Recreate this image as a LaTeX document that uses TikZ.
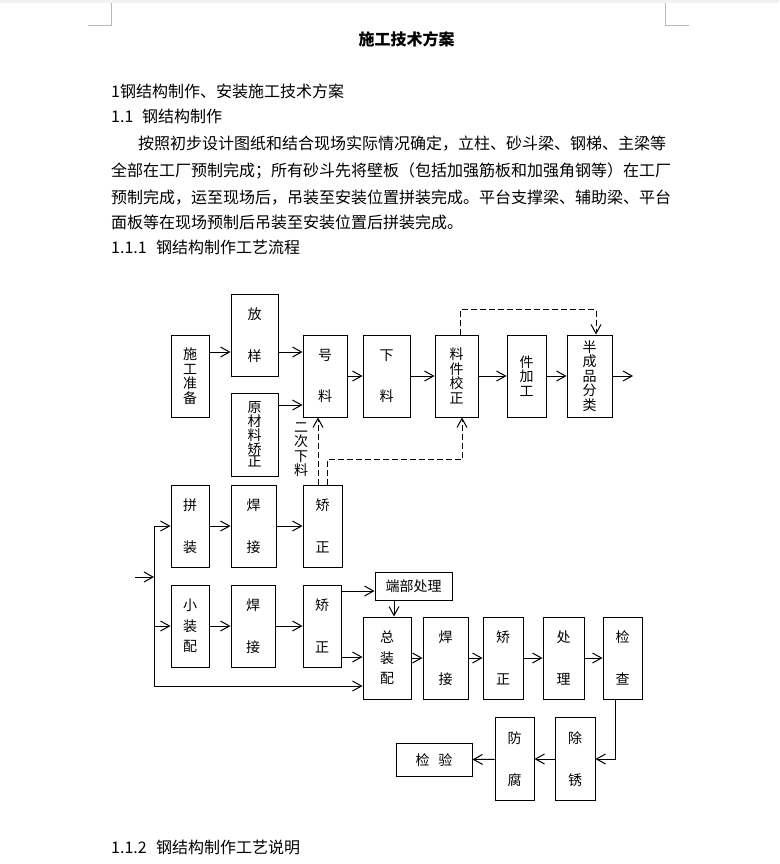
\documentclass[tikz,border=0pt]{standalone}
\usepackage{fontspec}
\setmainfont{Noto Sans CJK SC}
\usetikzlibrary{arrows.meta}
\XeTeXlinebreaklocale "zh"
\XeTeXlinebreakskip=0pt plus 1pt

\begin{document}
\begin{tikzpicture}[
  x=1pt, y=-1pt,
  box/.style={rectangle, draw=black, line width=1pt, fill=white,
              inner sep=0pt, align=center,
              minimum width=44pt, minimum height=82pt,
              font=\fontsize{14}{14.5}\selectfont},
  hbox/.style={box, minimum height=29pt},
  txt/.style={anchor=base west, inner sep=0pt, font=\fontsize{16}{16}\selectfont},
  arr/.style={-{Straight Barb[length=9pt,width=10pt]}, line width=1pt},
  darr/.style={arr, dash pattern=on 6pt off 3pt},
  cropline/.style={black!28, line width=1pt},
]
\useasboundingbox (0,0) rectangle (779,864);
\fill[white] (0,0) rectangle (779,864);
\fill[black!5] (0,0) rectangle (779,3);

%% ---- page corners ----
\draw[cropline] (88,26) -- (111.5,26) -- (111.5,3);
\draw[cropline] (665,3) -- (665,26) -- (689,26);

%% ---- text ----
\node[txt, anchor=base, font=\fontsize{16}{16}\selectfont\bfseries] (title) at (406.5,45.5)
  {施工技术方案};
\node[txt] (sec1)  at (111,98) {1钢结构制作、安装施工技术方案};
\node[txt] (sec11) at (111,123) {\makebox[31pt][l]{1.1}钢结构制作};
\node[txt] (par1)  at (138,149)
  {\makebox[527pt][s]{按照初步设计图纸和结合现场实际情况确定，立柱、砂斗梁、钢梯、主梁等}};
\node[txt] (par2)  at (111,176)
  {\makebox[554pt][s]{全部在工厂预制完成；所有砂斗先将壁板（包括加强筋板和加强角钢等）在工厂}};
\node[txt] (par3)  at (111,203)
  {\makebox[554pt][s]{预制完成，运至现场后，吊装至安装位置拼装完成。平台支撑梁、辅助梁、平台}};
\node[txt] (par4)  at (111,228) {面板等在现场预制后吊装至安装位置后拼装完成。};
\node[txt] (sec111) at (111,253) {\makebox[45pt][l]{1.1.1}钢结构制作工艺流程};
\node[txt] (sec112) at (111,853) {\makebox[45pt][l]{1.1.2}钢结构制作工艺说明};

%% ---- row 1 ----
\node[box, minimum width=38pt] (prep)     at (190,376)   {施\\工\\准\\备};
\node[box, minimum width=47pt] (fangyang) at (254.5,335) {放\\[27pt]样};
\node[box, minimum width=47pt, minimum height=83pt,
      font=\fontsize{14}{12.8}\selectfont] (yuancai) at (254.5,434.5)
  {原\\材\\料\\矫\\正};
\node[box]                     (haoliao)  at (325,376)   {号\\[27pt]料};
\node[box, minimum width=47pt] (xialiao)  at (386.5,376) {下\\[27pt]料};
\node[box, minimum width=43pt] (jiaozheng) at (456.5,376) {料\\件\\校\\正};
\node[box, minimum width=39pt] (jiagong)  at (526.5,376) {件\\加\\工};
\node[box, minimum width=45pt] (fenlei)   at (589.5,376) {半\\成\\品\\分\\类};
\coordinate (fenout) at (633,376);
\node[align=center, inner sep=0pt, font=\fontsize{14}{14.5}\selectfont] (erci)
  at (301,449.5) {二\\次\\下\\料};

%% ---- row 2 / row 3 ----
\node[box, minimum width=38pt] (pinzhuang)  at (190,526)   {拼\\[27pt]装};
\node[box, minimum width=45pt] (hanjie1)    at (253.5,526) {焊\\[27pt]接};
\node[box, minimum width=39pt] (jiaozheng1) at (322.5,526) {矫\\[27pt]正};
\node[box, minimum width=38pt] (xiaozhuang) at (190,626)   {小\\[6pt]装\\[6pt]配};
\node[box, minimum width=44pt] (hanjie2)    at (253,626)   {焊\\[27pt]接};
\node[box, minimum width=38pt] (jiaozheng2) at (322,626)   {矫\\[27pt]正};
\node[hbox, minimum width=77pt, minimum height=28pt] (duanbu) at (413.5,586) {端部处理};
\coordinate (inpt)  at (135,577);
\coordinate (split) at (154,577);

%% ---- row 4 / row 5 ----
\node[box, minimum width=48pt] (zongzhuang) at (387,658)   {总\\[6pt]装\\[6pt]配};
\node[box, minimum width=45pt] (hanjie3)    at (445.5,658) {焊\\[27pt]接};
\node[box, minimum width=40pt] (jiaozheng3) at (503,658)   {矫\\[27pt]正};
\node[box, minimum width=41pt] (chuli)      at (563.5,658) {处\\[27pt]理};
\node[box, minimum width=39pt] (jiancha)    at (622.5,658) {检\\[27pt]查};
\node[box, minimum width=40pt, minimum height=83pt] (chuxiu) at (575,759)   {除\\[27pt]锈};
\node[box, minimum width=39pt, minimum height=83pt] (fangfu) at (514.5,759) {防\\[27pt]腐};
\node[hbox, minimum width=76pt, minimum height=33pt] (jianyan) at (434,760) {检\hspace{9pt}验};

%% ---- arrows row 1 ----
\draw[arr] ([yshift=24pt]prep.east) -- ([yshift=24pt]prep.east -| fangyang.west);
\draw[arr] ([yshift=-17pt]fangyang.east) -- ([yshift=-17pt]fangyang.east -| haoliao.west);
\draw[arr] ([yshift=29.5pt]yuancai.east) -- ([yshift=29.5pt]yuancai.east -| haoliao.west);
\draw[arr] (haoliao) -- (xialiao);
\draw[arr] (xialiao) -- (jiaozheng);
\draw[arr] (jiaozheng) -- (jiagong);
\draw[arr] (jiagong) -- (fenlei);
\draw[arr] (fenlei) -- (fenout);
\draw[darr] ([xshift=3.5pt]jiaozheng.north) -- ++(0,-25) -| ([xshift=6.5pt]fenlei.north);
\draw[darr] ([xshift=-4.5pt]jiaozheng1.north) -- ([xshift=-4.5pt]jiaozheng1.north |- haoliao.south);
\draw[darr] ([xshift=4.5pt]jiaozheng1.north) -- ++(0,-25) -| ([xshift=5.5pt]jiaozheng.south);

%% ---- arrows rows 2-3 ----
\draw[arr] (inpt) -- (split);
\draw[arr] (split) |- (pinzhuang);
\draw[arr] (split) |- (xiaozhuang);
\draw[arr] (split) |- ([yshift=-28pt]zongzhuang.west);
\draw[arr] (pinzhuang) -- (hanjie1);
\draw[arr] (hanjie1) -- (jiaozheng1);
\draw[arr] (xiaozhuang) -- (hanjie2);
\draw[arr] (hanjie2) -- (jiaozheng2);
\draw[arr] ([yshift=35pt]jiaozheng2.east) -- ([yshift=35pt]jiaozheng2.east -| duanbu.west);
\draw[arr] ([xshift=-19.5pt]duanbu.south) -- ([xshift=-19.5pt]duanbu.south |- zongzhuang.north);
\draw[arr] ([yshift=-31pt]jiaozheng2.east) -- ([yshift=-31pt]jiaozheng2.east -| zongzhuang.west);

%% ---- arrows rows 4-5 ----
\draw[arr] (zongzhuang) -- (hanjie3);
\draw[arr] (hanjie3) -- (jiaozheng3);
\draw[arr] (jiaozheng3) -- (chuli);
\draw[arr] (chuli) -- (jiancha);
\draw[arr] ([xshift=-7.5pt]jiancha.south) |- (chuxiu);
\draw[arr] (chuxiu) -- (fangfu);
\draw[arr] (fangfu) -- (jianyan);

\end{tikzpicture}
\end{document}
